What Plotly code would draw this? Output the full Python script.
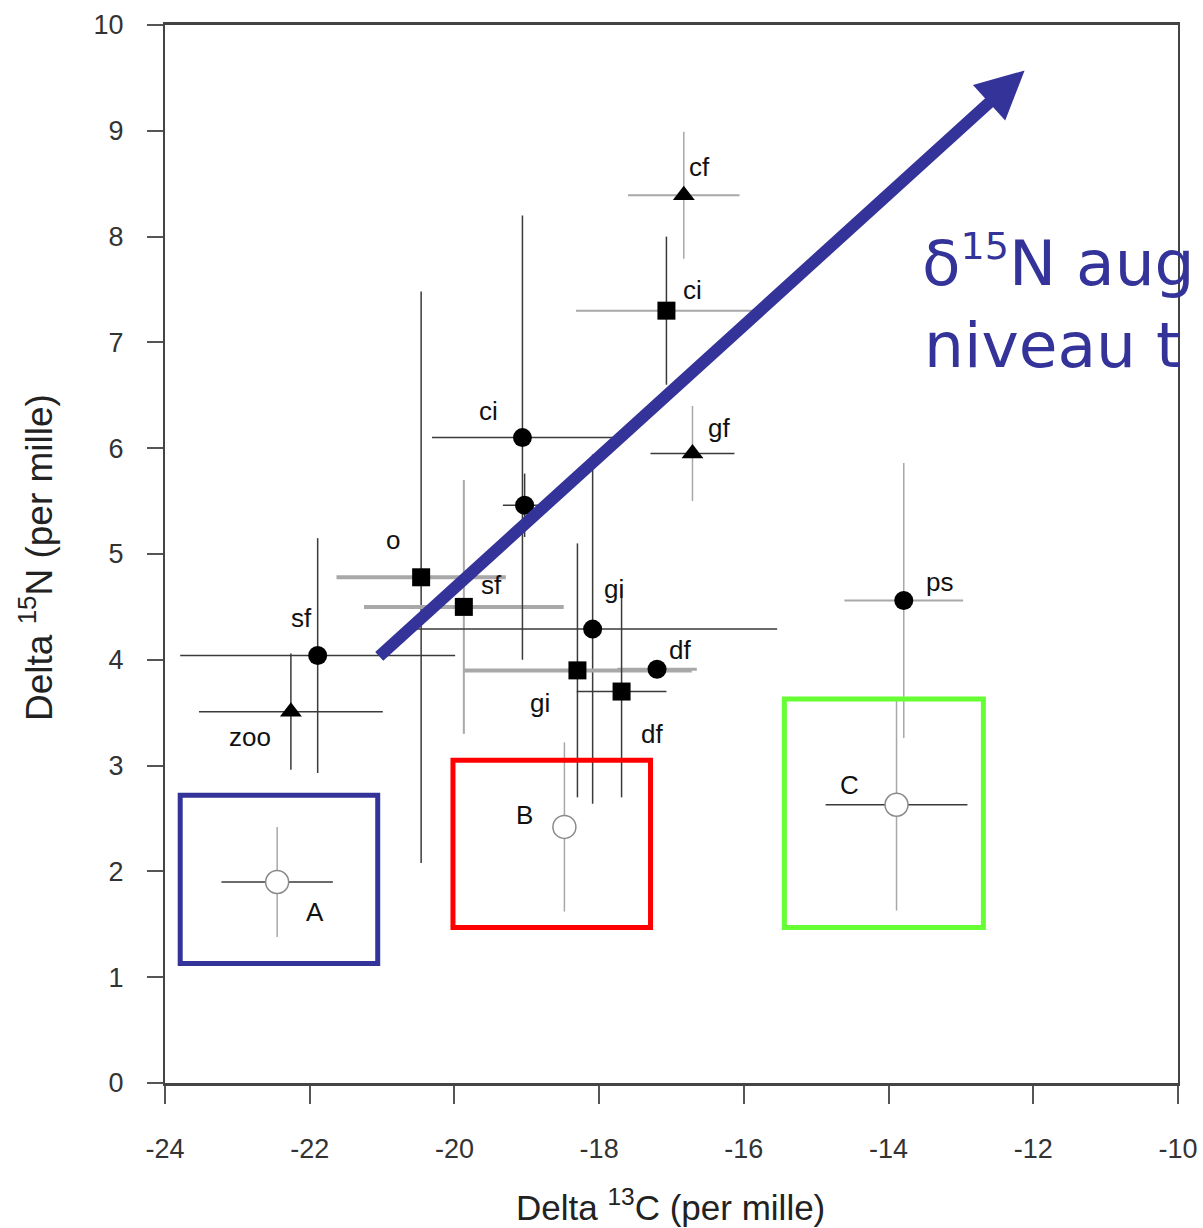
import plotly.graph_objects as go

# ---- data ----
labels = ["zoo", "sf", "o", "sf", "ci", "", "cf", "ci", "gf", "gi", "gi", "df", "df", "ps", "A", "B", "C"]
d13c = [-22.26, -21.89, -20.46, -19.87, -19.06, -19.03, -16.83, -17.07, -16.71, -18.09, -18.30, -17.20, -17.69, -13.79, -22.45, -18.48, -13.89]
d15n = [3.51, 4.04, 4.78, 4.50, 6.10, 5.46, 8.39, 7.30, 5.95, 4.29, 3.90, 3.91, 3.70, 4.56, 1.90, 2.42, 2.63]
err_c = [1.27, 1.90, 1.17, 1.38, 1.25, 0.30, 0.77, 1.25, 0.58, 2.55, 1.58, 0.55, 0.62, 0.82, 0.77, 0.0, 0.98]
err_n = [0.55, 1.11, 2.70, 1.20, 2.10, 0.30, 0.60, 0.70, 0.45, 1.65, 1.20, 0.0, 1.00, 1.30, 0.52, 0.80, 1.00]
kinds = ["tri", "circ", "sq", "sq", "circ", "circ", "tri", "sq", "tri", "circ", "sq", "circ", "sq", "circ", "open", "open", "open"]

x_ticks = [-24, -22, -20, -18, -16, -14, -12, -10]
x_tick_text = ["-24", "-22", "-20", "-18", "-16", "-14", "-12", "-10"]
y_ticks = [0, 1, 2, 3, 4, 5, 6, 7, 8, 9, 10]

# boxes A, B, C (x0, x1, y0, y1)
box_names = ["A", "B", "C"]
box_x0 = [-23.79, -20.02, -15.44]
box_x1 = [-21.06, -17.29, -12.69]
box_y0 = [1.13, 1.47, 1.47]
box_y1 = [2.72, 3.05, 3.63]

# trend arrow (tail -> head)
arrow_tail = (-21.06, 4.02)
arrow_head = (-12.12, 9.57)

# caption as visible in the picture (the slide text runs off the right edge)
caption_1 = "δ<sup><span style='font-size:38px'>15</span></sup>N aug"
caption_2 = "niveau t"

# ---- styles ----
DARK = "#3a3a3a"
GRAY = "#a8a8a8"
NAVY = "#333399"
box_colors = [NAVY, "#ff0000", "#66ff33"]
# per point: (xerr color, xerr width, yerr color, yerr width)
err_style = [
    (DARK, 1.5, DARK, 1.5), (DARK, 1.5, DARK, 1.5), (GRAY, 4, DARK, 1.5), (GRAY, 4, GRAY, 2),
    (DARK, 1.5, DARK, 1.5), (DARK, 1.5, DARK, 1.5), (GRAY, 2, GRAY, 1.5), (GRAY, 2, DARK, 1.5),
    (DARK, 1.5, GRAY, 1.5), (DARK, 1.5, DARK, 1.5), (GRAY, 4, DARK, 1.5), (GRAY, 3, GRAY, 1.5),
    (DARK, 1.5, DARK, 1.5), (GRAY, 2, GRAY, 1.5), (DARK, 1.5, GRAY, 1.5), (GRAY, 1.5, GRAY, 1.5),
    (DARK, 1.5, GRAY, 1.5),
]
# label offsets in pixels (dx, dy screen)
label_off = [(-41, 25), (-16, -38), (-28, -37), (28, -22), (-34, -27), (0, 0), (16, -28), (26, -21),
             (27, -25), (21, -40), (-37, 33), (23, -19), (30, 42), (36, -19), (38, 30), (-40, -12), (-47, -20)]

sym_map = {"tri": "triangle-up", "circ": "circle", "sq": "square", "open": "circle"}
size_map = {"tri": 19, "circ": 19, "sq": 18, "open": 23}

W, H = 1203, 1228
ML, MR, MT, MB = 165, 25, 25, 145
PW, PH = W - ML - MR, H - MT - MB


def px_x(p):
    return (p - ML) / PW


def px_y(p):
    return (H - MB - p) / PH


fig = go.Figure()
for i in range(len(labels)):
    k = kinds[i]
    xc, xw, yc, yw = err_style[i]
    fig.add_trace(go.Scatter(
        x=[d13c[i]], y=[d15n[i]], mode="markers", showlegend=False,
        marker=dict(symbol=sym_map[k], size=size_map[k],
                    color="white" if k == "open" else "black",
                    line=dict(color="#8a8a8a" if k == "open" else "black", width=1.5 if k == "open" else 0)),
        error_x=dict(type="data", array=[err_c[i]], visible=err_c[i] > 0, color=xc, thickness=xw, width=0),
        error_y=dict(type="data", array=[err_n[i]], visible=err_n[i] > 0, color=yc, thickness=yw, width=0),
    ))

annotations = []
for i, lab in enumerate(labels):
    if not lab:
        continue
    dx, dy = label_off[i]
    annotations.append(dict(x=d13c[i], y=d15n[i], text=lab, showarrow=False, xshift=dx, yshift=-dy,
                            font=dict(family="Liberation Sans, Arial", size=26, color="#111")))

# arrow
annotations.append(dict(x=arrow_head[0], y=arrow_head[1], ax=arrow_tail[0], ay=arrow_tail[1],
                        xref="x", yref="y", axref="x", ayref="y", text="", showarrow=True,
                        arrowhead=2, arrowsize=0.8, arrowwidth=12, arrowcolor=NAVY, standoff=0))
# caption text
annotations.append(dict(x=px_x(920), y=px_y(262), xref="paper", yref="paper",
                        xanchor="left", yanchor="middle", text=caption_1, showarrow=False, align="left",
                        font=dict(family="DejaVu Sans", size=63, color=NAVY)))
annotations.append(dict(x=px_x(922), y=px_y(345), xref="paper", yref="paper",
                        xanchor="left", yanchor="middle", text=caption_2, showarrow=False, align="left",
                        font=dict(family="DejaVu Sans", size=63, color=NAVY)))
# axis titles
annotations.append(dict(x=px_x(670), y=px_y(1205), xref="paper", yref="paper",
                        xanchor="center", yanchor="middle", text="Delta <sup>13</sup>C (per mille)",
                        showarrow=False, font=dict(family="Liberation Sans, Arial", size=35, color="#222")))
annotations.append(dict(x=px_x(36), y=px_y(558), xref="paper", yref="paper",
                        xanchor="center", yanchor="middle", textangle=-90, text="Delta <sup>15</sup>N (per mille)",
                        showarrow=False, font=dict(family="Liberation Sans, Arial", size=37, color="#222")))

shapes = []
for j in range(len(box_names)):
    shapes.append(dict(type="rect", xref="x", yref="y", x0=box_x0[j], x1=box_x1[j], y0=box_y0[j], y1=box_y1[j],
                       line=dict(color=box_colors[j], width=5), fillcolor="rgba(0,0,0,0)"))

fig.update_layout(
    width=W, height=H,
    margin=dict(l=ML, r=MR, t=MT, b=MB, autoexpand=False),
    paper_bgcolor="white", plot_bgcolor="white",
    annotations=annotations, shapes=shapes,
    font=dict(family="Liberation Sans, Arial", color="#333"),
)
fig.update_xaxes(range=[-24, -10], tickvals=x_ticks, ticktext=x_tick_text, ticks="outside", ticklen=18,
                 tickwidth=1.5, tickcolor="#555", automargin=False, ticklabelstandoff=22,
                 showline=True, linecolor="#444", linewidth=3, mirror=True, showgrid=False, zeroline=False,
                 tickfont=dict(size=27, color="#333"))
fig.update_yaxes(range=[0, 10], tickvals=y_ticks, ticks="outside", ticklen=16, tickwidth=1.5, tickcolor="#555",
                 automargin=False, ticklabelstandoff=18,
                 showline=True, linecolor="#444", linewidth=2, mirror=True, showgrid=False, zeroline=False,
                 tickfont=dict(size=27, color="#333"))

fig.write_html("out.html", config={"displayModeBar": False},
               post_script="document.body.style.margin='0px';")
